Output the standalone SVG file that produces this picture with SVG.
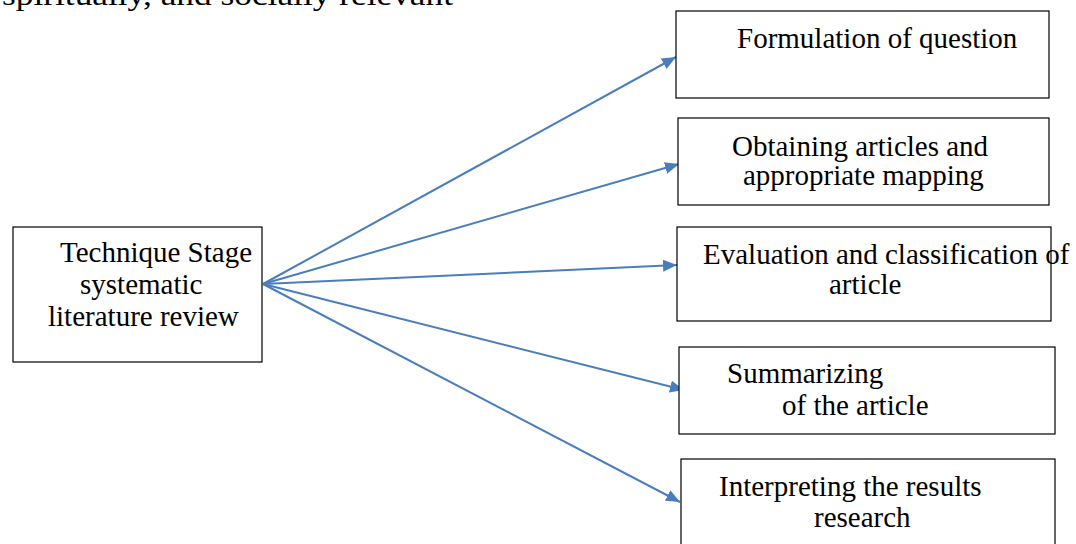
<svg xmlns="http://www.w3.org/2000/svg" width="1076" height="544" viewBox="0 0 1076 544">
<style>
.box{fill:#fff;stroke:#000;stroke-width:1.2}
.t{font-family:"Liberation Serif","Times New Roman",serif;font-size:29px;fill:#000}
.c{stroke:#4a7ebb;stroke-width:2;fill:none}
</style>
<defs>
<marker id="ah" markerUnits="userSpaceOnUse" markerWidth="14" markerHeight="12" viewBox="0 0 14 12" refX="14" refY="6" orient="auto">
<path d="M0,0 L14,6 L0,12 Z" fill="#4a7ebb"/>
</marker>
</defs>
<rect width="1076" height="544" fill="#fff"/>
<text class="t" x="2" y="5" font-size="30" textLength="451" lengthAdjust="spacingAndGlyphs">spiritually, and socially relevant</text>
<g id="connectors">
<line class="c" x1="263" y1="284" x2="676" y2="57" marker-end="url(#ah)"/>
<line class="c" x1="263" y1="284" x2="679" y2="164" marker-end="url(#ah)"/>
<line class="c" x1="263" y1="284" x2="677" y2="265" marker-end="url(#ah)"/>
<line class="c" x1="263" y1="284" x2="684" y2="390" marker-end="url(#ah)"/>
<line class="c" x1="263" y1="284" x2="680" y2="502" marker-end="url(#ah)"/>
</g>
<g id="source">
<rect class="box" x="13" y="227" width="249" height="135"/>
<text class="t" x="60" y="262">Technique Stage</text>
<text class="t" x="80" y="294">systematic</text>
<text class="t" x="48" y="326">literature review</text>
</g>
<g id="n1">
<rect class="box" x="676" y="11" width="373" height="87"/>
<text class="t" x="737" y="48">Formulation of question</text>
</g>
<g id="n2">
<rect class="box" x="678" y="118" width="371" height="87"/>
<text class="t" x="732" y="156">Obtaining articles and</text>
<text class="t" x="743" y="185">appropriate mapping</text>
</g>
<g id="n3">
<rect class="box" x="677" y="227" width="374" height="94"/>
<text class="t" x="703" y="264">Evaluation and classification of</text>
<text class="t" x="829" y="294">article</text>
</g>
<g id="n4">
<rect class="box" x="679" y="347" width="376" height="87"/>
<text class="t" x="727" y="383">Summarizing</text>
<text class="t" x="782" y="415">of the article</text>
</g>
<g id="n5">
<rect class="box" x="681" y="459" width="374" height="100"/>
<text class="t" x="719" y="496">Interpreting the results</text>
<text class="t" x="814" y="527">research</text>
</g>
</svg>
